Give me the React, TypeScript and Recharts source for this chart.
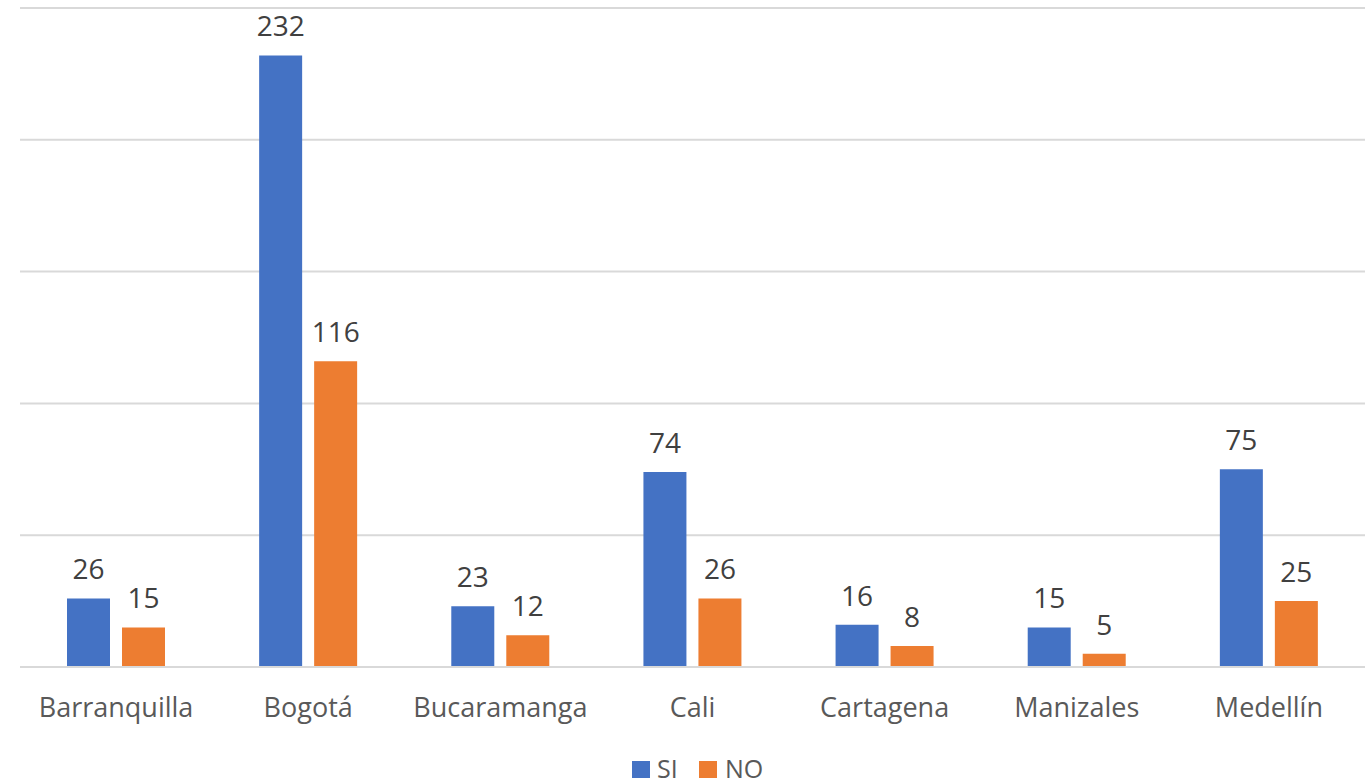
import React from 'react';
import { BarChart, Bar, XAxis, YAxis, CartesianGrid, LabelList } from 'recharts';

const categories = ['Barranquilla', 'Bogotá', 'Bucaramanga', 'Cali', 'Cartagena', 'Manizales', 'Medellín'];
const siValues = [26, 232, 23, 74, 16, 15, 75];
const noValues = [15, 116, 12, 26, 8, 5, 25];
const yTicks = [0, 50, 100, 150, 200, 250];
const seriesNames = ['SI', 'NO'];
const seriesColors = ['#4472C4', '#ED7D31'];

const data = categories.map((c, i) => ({ name: c, SI: siValues[i], NO: noValues[i] }));

const FONT = '"Open Sans", sans-serif';

export default function App() {
  return (
    <div style={{ position: 'absolute', left: 0, top: 0, width: 1365, height: 784, background: '#fff', overflow: 'hidden' }}>
      <BarChart width={1365} height={784} data={data} margin={{ top: 8, right: 0, left: 20, bottom: 87 }} barCategoryGap={47} barGap={12}>
        <CartesianGrid vertical={false} stroke="#d9d9d9" strokeWidth={2} />
        <YAxis hide domain={[0, 250]} ticks={yTicks} />
        <XAxis dataKey="name" height={30} axisLine={{ stroke: '#d9d9d9', strokeWidth: 2 }} tickLine={false} tick={{ fill: '#595959', fontSize: 27, fontFamily: FONT }} tickMargin={25} interval={0} />
        <Bar dataKey="SI" fill={seriesColors[0]} isAnimationActive={false}>
          <LabelList dataKey="SI" position="top" offset={19} style={{ fill: '#404040', fontSize: 28, fontFamily: FONT }} />
        </Bar>
        <Bar dataKey="NO" fill={seriesColors[1]} isAnimationActive={false}>
          <LabelList dataKey="NO" position="top" offset={19} style={{ fill: '#404040', fontSize: 28, fontFamily: FONT }} />
        </Bar>
      </BarChart>
      <svg width={1365} height={784} style={{ position: 'absolute', left: 0, top: 0, pointerEvents: 'none' }}>
        <rect x={632} y={761} width={18} height={17} fill={seriesColors[0]} />
        <text x={657} y={778} fill="#595959" fontSize={25} fontFamily={FONT}>{seriesNames[0]}</text>
        <rect x={699} y={761} width={18} height={17} fill={seriesColors[1]} />
        <text x={725} y={778} fill="#595959" fontSize={25} fontFamily={FONT}>{seriesNames[1]}</text>
      </svg>
    </div>
  );
}
